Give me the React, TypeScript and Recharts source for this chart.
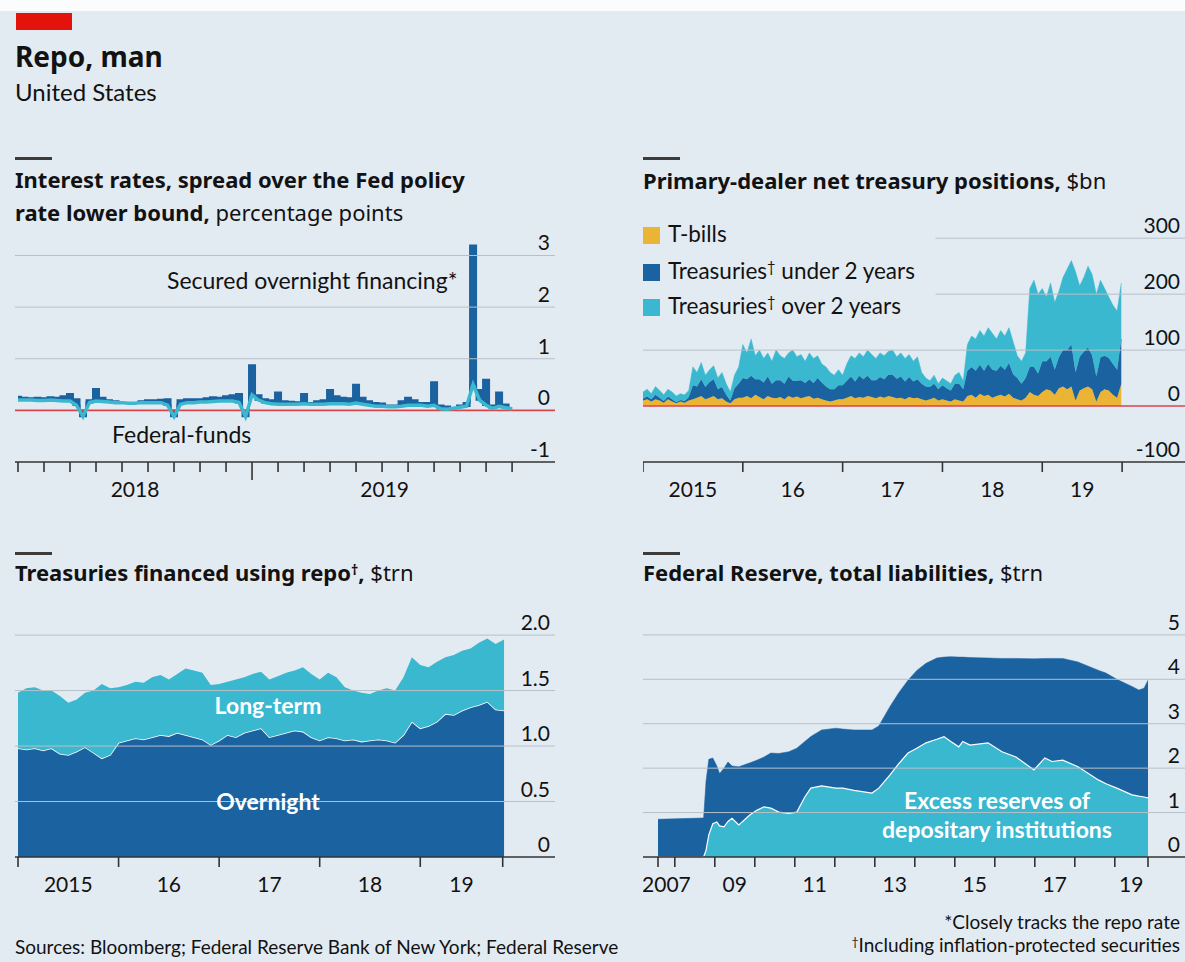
import React from 'react'
import { ComposedChart, Area, Line, XAxis, YAxis, ReferenceLine } from 'recharts'

const FONT = 'Lato, "Noto Sans", sans-serif'
const TITLE_FONT = '"Noto Sans", "Open Sans", sans-serif'
const TEXT = '#121212'
const DARK = '#1b62a0'
const CYAN = '#3ab8d0'
const YELLOW = '#ebb434'
const RED = '#db444b'
const GRID = '#b6c0c8'
const AXIS = '#333333'
const BG = '#e3ebf2'

// Panel 1: spread over Fed policy rate lower bound, weekly steps from Apr 2018 (months index)
const sofr = [
  0.27, 0.25, 0.24, 0.25, 0.24, 0.26, 0.25, 0.28, 0.32, 0.22, 0.0, 0.2,
  0.42, 0.25, 0.2, 0.18, 0.15, 0.14, 0.15, 0.18, 0.2, 0.2, 0.21, 0.22,
  0.0, 0.2, 0.22, 0.22, 0.22, 0.24, 0.26, 0.25, 0.28, 0.3, 0.32, 0.0,
  0.88, 0.3, 0.22, 0.2, 0.35, 0.18, 0.17, 0.16, 0.32, 0.15, 0.18, 0.2,
  0.4, 0.28, 0.25, 0.24, 0.5, 0.25, 0.18, 0.15, 0.14, 0.1, 0.1, 0.18,
  0.25, 0.2, 0.15, 0.15, 0.55, 0.1, 0.08, 0.05, 0.1, 0.15, 3.2, 0.4,
  0.6, 0.1, 0.35, 0.12, 0.05,
]
const fedFunds = [
  0.2, 0.2, 0.2, 0.19, 0.19, 0.2, 0.19, 0.18, 0.18, 0.1, -0.12, 0.15,
  0.18, 0.17, 0.16, 0.15, 0.15, 0.14, 0.14, 0.15, 0.15, 0.15, 0.15, 0.1,
  -0.12, 0.12, 0.15, 0.15, 0.16, 0.16, 0.17, 0.18, 0.18, 0.18, 0.15, -0.12,
  0.3, 0.2, 0.15, 0.13, 0.12, 0.12, 0.12, 0.12, 0.13, 0.12, 0.12, 0.12,
  0.13, 0.13, 0.13, 0.12, 0.14, 0.12, 0.1, 0.08, 0.08, 0.07, 0.07, 0.08,
  0.1, 0.1, 0.1, 0.08, 0.1, 0.03, 0.02, 0.04, 0.06, 0.08, 0.5, 0.2,
  0.1, 0.04, 0.08, 0.05, 0.03,
]
const p1Ticks = [0, 1, 2, 3, 4, 5, 6, 7, 8, 9, 10, 11, 12, 13, 14, 15, 16, 17, 18, 19]
const p1Major = [9]
const p1Labels = [{ at: 4.5, text: '2018' }, { at: 14.1, text: '2019' }]
const p1YTicks = [-1, 0, 1, 2, 3]

// Panel 2: primary-dealer positions, $bn, half-monthly from Jan 2015
const tBills = [
  10, 12, 8, 12, 10, 6, 12, 8, 5, 8, 6, 10, 12, 15, 18, 12, 15, 18, 12, 14, 8, 5, 12, 15,
  15, 18, 14, 20, 16, 12, 18, 15, 14, 16, 12, 18, 15, 17, 14, 16, 18, 13, 15, 12, 10, 8, 10, 12,
  12, 15, 18, 14, 16, 15, 18, 16, 14, 17, 15, 18, 16, 14, 15, 12, 16, 14, 15, 12, 10, 12, 15, 10,
  12, 10, 8, 12, 10, 8, 18, 20, 15, 22, 18, 20, 15, 18, 20, 17, 22, 15, 12, 10, 15, 25, 20, 18,
  25, 30, 28, 20, 32, 35, 30, 35, 10, 28, 32, 35, 30, 8, 25, 30, 28, 20, 15, 40,
]
const under2 = [
  3, 5, 4, 8, 5, 3, 5, 4, 2, 3, 3, 6, 25, 20, 30, 22, 28, 30, 18, 20, 12, 5, 20, 25,
  35, 30, 40, 28, 32, 30, 35, 25, 32, 30, 28, 35, 30, 28, 32, 25, 30, 28, 35, 30, 25, 22, 20, 25,
  25, 30, 35, 30, 38, 33, 36, 30, 32, 35, 33, 38, 40, 35, 38, 32, 36, 30, 33, 28, 25, 22, 25, 20,
  25, 22, 20, 28, 30, 22, 45, 50, 48, 52, 45, 55, 50, 45, 52, 48, 55, 42, 38, 30, 35, 45, 50, 40,
  55, 50, 60, 45, 55, 65, 70, 75, 50, 60, 65, 70, 60, 45, 62, 60, 58, 55, 50, 80,
]
const over2 = [
  12, 13, 10, 15, 13, 11, 13, 13, 11, 11, 11, 12, 33, 25, 30, 21, 22, 24, 20, 26, 20, 15, 23, 30,
  60, 47, 66, 42, 52, 43, 42, 40, 54, 44, 45, 42, 55, 43, 46, 39, 47, 44, 40, 33, 35, 30, 25, 28,
  18, 30, 37, 41, 41, 40, 46, 46, 39, 43, 42, 42, 44, 39, 42, 41, 40, 36, 40, 20, 15, 11, 15, 10,
  13, 13, 12, 15, 20, 15, 47, 55, 57, 61, 62, 65, 65, 57, 63, 60, 63, 58, 40, 40, 45, 140, 155, 142,
  130, 115, 132, 120, 118, 130, 145, 150, 180, 127, 133, 145, 145, 147, 138, 120, 109, 105, 105, 100,
]
const p2Ticks = [2015, 2016, 2017, 2018, 2019, 2019.8]
const p2Labels = [
  { at: 2015.5, text: '2015' }, { at: 2016.5, text: '16' }, { at: 2017.5, text: '17' },
  { at: 2018.5, text: '18' }, { at: 2019.4, text: '19' },
]
const p2YTicks = [-100, 0, 100, 200, 300]

// Panel 3: treasuries financed using repo, $trn, monthly from Jan 2015
const overnight = [
  0.98, 0.97, 0.98, 0.96, 0.98, 0.93, 0.92, 0.95, 0.99, 0.94, 0.89, 0.92,
  1.03, 1.05, 1.07, 1.06, 1.08, 1.1, 1.09, 1.12, 1.1, 1.08, 1.06, 1.01,
  1.05, 1.1, 1.08, 1.12, 1.14, 1.16, 1.08, 1.1, 1.12, 1.14, 1.13, 1.08,
  1.05, 1.08, 1.07, 1.05, 1.06, 1.04, 1.05, 1.06, 1.05, 1.03, 1.1, 1.22,
  1.16, 1.18, 1.22, 1.29, 1.28, 1.32, 1.35, 1.37, 1.4, 1.33, 1.32,
]
const longTerm = [
  0.5, 0.55, 0.55, 0.54, 0.52, 0.52, 0.47, 0.47, 0.49, 0.56, 0.67, 0.6,
  0.5, 0.5, 0.51, 0.51, 0.54, 0.54, 0.51, 0.53, 0.6, 0.6, 0.6, 0.54,
  0.51, 0.48, 0.52, 0.5, 0.51, 0.51, 0.52, 0.53, 0.54, 0.54, 0.58, 0.57,
  0.55, 0.58, 0.55, 0.48, 0.44, 0.44, 0.42, 0.44, 0.47, 0.47, 0.52, 0.58,
  0.57, 0.53, 0.54, 0.51, 0.54, 0.54, 0.53, 0.56, 0.57, 0.59, 0.64,
]
const p3Ticks = [2015, 2016, 2017, 2018, 2019, 2019.82]
const p3Labels = [
  { at: 2015.5, text: '2015' }, { at: 2016.5, text: '16' }, { at: 2017.5, text: '17' },
  { at: 2018.5, text: '18' }, { at: 2019.41, text: '19' },
]
const p3YTicks = [0, 0.5, 1, 1.5, 2]

// Panel 4: Federal Reserve total liabilities and excess reserves, $trn
const fedDates = [
  2007.58, 2008.0, 2008.4, 2008.72, 2008.78, 2008.85, 2008.95, 2009.05, 2009.12, 2009.23,
  2009.33, 2009.43, 2009.6, 2009.88, 2010.05, 2010.23, 2010.4, 2010.6, 2010.85, 2011.05,
  2011.25, 2011.4, 2011.67, 2012.03, 2012.2, 2012.48, 2012.93, 2013.1, 2013.38, 2013.6,
  2013.83, 2014.05, 2014.28, 2014.55, 2014.73, 2014.9, 2015.1, 2015.2, 2015.38, 2015.83,
  2016.18, 2016.53, 2016.98, 2017.25, 2017.43, 2017.7, 2018.08, 2018.6, 2018.78, 2019.05,
  2019.43, 2019.6, 2019.73, 2019.83,
]
const totalLiabilities = [
  0.85, 0.86, 0.87, 0.88, 1.7, 2.2, 2.23, 2.05, 1.88, 2.0,
  2.14, 2.05, 2.03, 2.12, 2.18, 2.25, 2.34, 2.33, 2.37, 2.45,
  2.6, 2.71, 2.86, 2.9, 2.88, 2.86, 2.86, 2.95, 3.39, 3.7,
  3.98, 4.2, 4.36, 4.48, 4.5, 4.51, 4.5, 4.5, 4.49, 4.48,
  4.47, 4.47, 4.46, 4.47, 4.47, 4.47, 4.39, 4.2, 4.14, 4.0,
  3.84, 3.76, 3.8, 3.98,
]
const excessReserves = [
  0, 0, 0, 0, 0.15, 0.5, 0.75, 0.79, 0.7, 0.68,
  0.8, 0.87, 0.72, 0.95, 1.05, 1.13, 1.1, 1.01, 0.98, 1.01,
  1.35, 1.55, 1.6, 1.55, 1.55, 1.5, 1.44, 1.55, 1.85, 2.1,
  2.34, 2.45, 2.57, 2.65, 2.71, 2.6, 2.48, 2.6, 2.52, 2.57,
  2.37, 2.25, 1.96, 2.23, 2.15, 2.18, 2.03, 1.73, 1.65, 1.55,
  1.4, 1.37, 1.35, 1.33,
]
const p4Ticks = [2007.58, 2008, 2009, 2010, 2011, 2012, 2013, 2014, 2015, 2016, 2017, 2018, 2019, 2019.83]
const p4Labels = [
  { at: 2007.79, text: '2007' }, { at: 2009.5, text: '09' }, { at: 2011.5, text: '11' },
  { at: 2013.5, text: '13' }, { at: 2015.5, text: '15' }, { at: 2017.5, text: '17' },
  { at: 2019.41, text: '19' },
]
const p4YTicks = [0, 1, 2, 3, 4, 5]

const p1Data = sofr.map((v, i) => ({ x: i / 4, sofr: v, fed: fedFunds[i] }))
const p2Data = tBills.map((v, i) => ({ x: 2015 + i / 24, tb: v, u2: under2[i], o2: over2[i] }))
const p3Data = overnight.map((v, i) => ({ x: 2015 + i / 12, on: v, lt: longTerm[i] }))
const p4Data = fedDates.map((d, i) => ({ x: d, total: totalLiabilities[i], excess: excessReserves[i] }))

type Lab = { at: number; text: string }

const makeXTick = (labels: Lab[], major: number[] = []) => (props: any) => {
  const { x, y, payload } = props
  const v = payload.value
  const lab = labels.find((l) => l.at === v)
  if (lab) {
    return (
      <text x={x} y={y + 35} textAnchor="middle" fontSize={21} fill={TEXT} fontFamily={FONT}>
        {lab.text}
      </text>
    )
  }
  return <line x1={x} x2={x} y1={y} y2={y + (major.includes(v) ? 18 : 10)} stroke={AXIS} strokeWidth={1.6} />
}

const allTicks = (ticks: number[], labels: Lab[]) => [...ticks, ...labels.map((l) => l.at)]

// value label sitting just above its gridline, flush right
const yLab = (v: string) => ({
  value: v, position: 'insideBottomRight' as const, offset: 5, fontSize: 21, fill: TEXT, fontFamily: FONT,
})

const txt = (style: React.CSSProperties, children: React.ReactNode) => (
  <div style={{ position: 'absolute', whiteSpace: 'nowrap', lineHeight: 1, fontFamily: FONT, color: TEXT, ...style }}>
    {children}
  </div>
)

const Rule = ({ x, y }: { x: number; y: number }) => (
  <div style={{ position: 'absolute', left: x, top: y, width: 37, height: 2.5, background: '#3c3c3c' }} />
)

const dagger = <sup style={{ fontSize: '0.65em', verticalAlign: '0.45em', lineHeight: 0 }}>†</sup>

export default function App() {
  // headroom above each plot so the top value label is not clipped
  const margin = { top: 24, right: 0, bottom: 0, left: 0 }
  const titleStyle = { fontSize: 22, fontFamily: TITLE_FONT }
  return (
    <div style={{ position: 'absolute', left: 0, top: 0, width: 1185, height: 962, background: '#fbfcfd', overflow: 'hidden' }}>
      <div style={{ position: 'absolute', left: 0, top: 11, width: 1185, height: 951, background: BG }} />
      <div style={{ position: 'absolute', left: 16, top: 13, width: 56, height: 17, background: '#e3120b' }} />
      {txt({ left: 15, top: 42, fontSize: 28, fontWeight: 700, fontFamily: TITLE_FONT }, 'Repo, man')}
      {txt({ left: 15, top: 80, fontSize: 24 }, 'United States')}

      {/* Panel 1 */}
      <Rule x={15} y={157} />
      {txt({ ...titleStyle, left: 15, top: 168, fontWeight: 700 }, 'Interest rates, spread over the Fed policy')}
      {txt({ ...titleStyle, left: 15, top: 201 }, <><b>rate lower bound,</b> percentage points</>)}
      <div style={{ position: 'absolute', left: 15, top: 216 }}>
        <ComposedChart width={540} height={286} data={p1Data} margin={margin}>
          <XAxis dataKey="x" type="number" domain={[-0.115, 20.65]} allowDataOverflow ticks={allTicks(p1Ticks, p1Labels)}
            interval={0} tick={makeXTick(p1Labels, p1Major)} tickLine={false} tickSize={0} tickMargin={0} height={40}
            axisLine={{ stroke: AXIS, strokeWidth: 1.6 }} />
          <YAxis hide type="number" domain={[-1, 3.3]} allowDataOverflow ticks={p1YTicks} />
          {p1YTicks.map((v) => (
            <ReferenceLine key={v} y={v} stroke={v === 0 ? RED : v === -1 ? 'none' : GRID} strokeWidth={v === 0 ? 1.6 : 1}
              label={yLab(String(v))} />
          ))}
          <Area dataKey={(d: any) => [d.fed, d.sofr]} type="step" fill={DARK} stroke={DARK} strokeWidth={1.5}
            fillOpacity={1} isAnimationActive={false} />
          <Line dataKey="fed" type="linear" stroke={CYAN} strokeWidth={3.5} dot={false} activeDot={false} isAnimationActive={false} />
        </ComposedChart>
      </div>
      {txt({ left: 167, top: 269, fontSize: 23 }, 'Secured overnight financing*')}
      {txt({ left: 112, top: 423, fontSize: 23 }, 'Federal-funds')}

      {/* Panel 2 */}
      <Rule x={643} y={157} />
      {txt({ ...titleStyle, left: 643, top: 169 }, <><b>Primary-dealer net treasury positions,</b> $bn</>)}
      <div style={{ position: 'absolute', left: 643, top: 203 }}>
        <ComposedChart width={542} height={299} data={p2Data} margin={margin}>
          <XAxis dataKey="x" type="number" domain={[2015, 2020.43]} allowDataOverflow ticks={allTicks(p2Ticks, p2Labels)}
            interval={0} tick={makeXTick(p2Labels)} tickLine={false} tickSize={0} tickMargin={0} height={40}
            axisLine={{ stroke: AXIS, strokeWidth: 1.6 }} />
          <YAxis hide type="number" domain={[-100, 320]} allowDataOverflow ticks={p2YTicks} />
          {[200, 300].map((v) => (
            <ReferenceLine key={`s${v}`} segment={[{ x: 2017.93, y: v }, { x: 2020.43, y: v }]} stroke={GRID} strokeWidth={1} />
          ))}
          {p2YTicks.map((v) => (
            <ReferenceLine key={v} y={v} stroke={v === 100 ? GRID : 'none'} strokeWidth={1} label={yLab(String(v))} />
          ))}
          <Area dataKey="tb" stackId="p" type="linear" fill={YELLOW} stroke={YELLOW} strokeWidth={0.5} fillOpacity={1} isAnimationActive={false} />
          <Area dataKey="u2" stackId="p" type="linear" fill={DARK} stroke={DARK} strokeWidth={0.5} fillOpacity={1} isAnimationActive={false} />
          <Area dataKey="o2" stackId="p" type="linear" fill={CYAN} stroke={CYAN} strokeWidth={0.5} fillOpacity={1} isAnimationActive={false} />
          <ReferenceLine y={0} stroke={RED} strokeWidth={1.6} />
        </ComposedChart>
      </div>
      {[
        { c: YELLOW, t: <>T-bills</>, y: 235 },
        { c: DARK, t: <>Treasuries{dagger} under 2 years</>, y: 272 },
        { c: CYAN, t: <>Treasuries{dagger} over 2 years</>, y: 307 },
      ].map((l, i) => (
        <React.Fragment key={i}>
          <div style={{ position: 'absolute', left: 643, top: l.y - 8, width: 17, height: 17, background: l.c }} />
          {txt({ left: 668, top: l.y - 12, fontSize: 22.5 }, l.t)}
        </React.Fragment>
      ))}

      {/* Panel 3 */}
      <Rule x={15} y={552} />
      {txt({ ...titleStyle, left: 15, top: 561 }, <><b>Treasuries financed using repo{dagger},</b> $trn</>)}
      <div style={{ position: 'absolute', left: 15, top: 600 }}>
        <ComposedChart width={540} height={297} data={p3Data} margin={margin}>
          <XAxis dataKey="x" type="number" domain={[2014.97, 2020.34]} allowDataOverflow ticks={allTicks(p3Ticks, p3Labels)}
            interval={0} tick={makeXTick(p3Labels)} tickLine={false} tickSize={0} tickMargin={0} height={40}
            axisLine={{ stroke: AXIS, strokeWidth: 1.6 }} />
          <YAxis hide type="number" domain={[0, 2.1]} allowDataOverflow ticks={p3YTicks} />
          {p3YTicks.map((v) => (
            <ReferenceLine key={v} y={v} stroke={v === 0 ? 'none' : GRID} strokeWidth={1} />
          ))}
          <Area dataKey="on" stackId="r" type="linear" fill={DARK} stroke="#ffffff" strokeWidth={1.6} fillOpacity={1} isAnimationActive={false} />
          <Area dataKey="lt" stackId="r" type="linear" fill={CYAN} stroke="none" fillOpacity={1} isAnimationActive={false} />
          {p3YTicks.map((v) => (
            <ReferenceLine key={`l${v}`} y={v} stroke="none" label={yLab(v === 0 ? '0' : v.toFixed(1))} />
          ))}
        </ComposedChart>
      </div>
      {txt({ left: 268, top: 694, fontSize: 23, fontWeight: 700, color: '#ffffff', transform: 'translateX(-50%)' }, 'Long-term')}
      {txt({ left: 268, top: 790, fontSize: 23, fontWeight: 700, color: '#ffffff', transform: 'translateX(-50%)' }, 'Overnight')}

      {/* Panel 4 */}
      <Rule x={643} y={552} />
      {txt({ ...titleStyle, left: 643, top: 561 }, <><b>Federal Reserve, total liabilities,</b> $trn</>)}
      <div style={{ position: 'absolute', left: 643, top: 602 }}>
        <ComposedChart width={542} height={295} data={p4Data} margin={margin}>
          <XAxis dataKey="x" type="number" domain={[2007.205, 2020.755]} allowDataOverflow ticks={allTicks(p4Ticks, p4Labels)}
            interval={0} tick={makeXTick(p4Labels)} tickLine={false} tickSize={0} tickMargin={0} height={40}
            axisLine={{ stroke: AXIS, strokeWidth: 1.6 }} />
          <YAxis hide type="number" domain={[0, 5.2]} allowDataOverflow ticks={p4YTicks} />
          {p4YTicks.map((v) => (
            <ReferenceLine key={v} y={v} stroke={v === 0 ? 'none' : GRID} strokeWidth={1} label={yLab(String(v))} />
          ))}
          <Area dataKey="total" type="linear" fill={DARK} stroke={DARK} strokeWidth={0.5} fillOpacity={1} isAnimationActive={false} />
          <Area dataKey="excess" type="linear" fill={CYAN} stroke="#ffffff" strokeWidth={1.2} fillOpacity={1} isAnimationActive={false} />
        </ComposedChart>
      </div>
      {txt({ left: 997, top: 789, fontSize: 23, fontWeight: 700, color: '#ffffff', transform: 'translateX(-50%)' }, 'Excess reserves of')}
      {txt({ left: 997, top: 818, fontSize: 23, fontWeight: 700, color: '#ffffff', transform: 'translateX(-50%)' }, 'depositary institutions')}

      {/* Footer */}
      {txt({ left: 15, top: 937, fontSize: 19 }, 'Sources: Bloomberg; Federal Reserve Bank of New York; Federal Reserve')}
      {txt({ right: 5, top: 912, fontSize: 19 }, '*Closely tracks the repo rate')}
      {txt({ right: 5, top: 935, fontSize: 19 }, <>{dagger}Including inflation-protected securities</>)}
    </div>
  )
}
